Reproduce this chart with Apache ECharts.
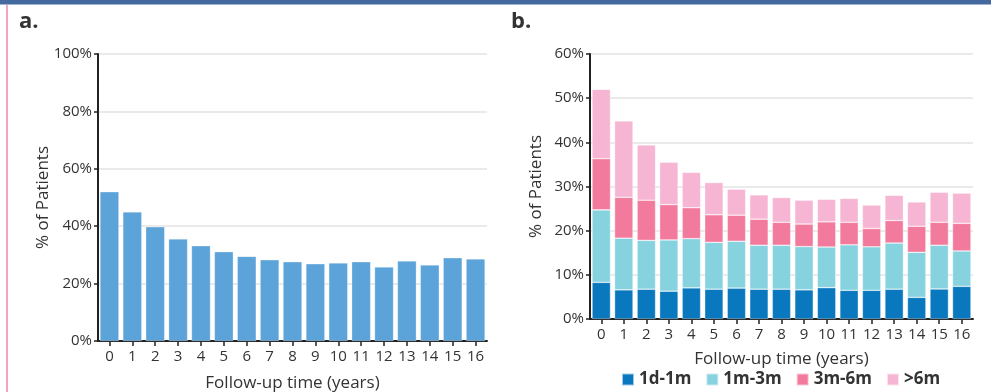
<!DOCTYPE html>
<html>
<head>
<meta charset="utf-8">
<script src="https://cdn.jsdelivr.net/npm/echarts@6/dist/echarts.min.js"></script>
<style>
html,body{margin:0;padding:0;background:#fff;}
#c{width:991px;height:392px;}
</style>
</head>
<body>
<div id="c"></div>
<script>
const years = ['0','1','2','3','4','5','6','7','8','9','10','11','12','13','14','15','16'];
const yTicksA = [0, 20, 40, 60, 80, 100];
const yTicksB = [0, 10, 20, 30, 40, 50, 60];
const totalPct = [52.0, 45.0, 39.8, 35.6, 33.2, 31.1, 29.5, 28.3, 27.6, 26.9, 27.2, 27.6, 25.8, 27.9, 26.5, 29.0, 28.6];
const seriesNames = ['1d-1m', '1m-3m', '3m-6m', '>6m'];
const d1m = [8.3, 6.6, 6.75, 6.3, 7.05, 6.75, 7.0, 6.75, 6.75, 6.6, 7.1, 6.5, 6.5, 6.75, 4.9, 6.8, 7.4];
const m1m3 = [16.4, 11.7, 11.05, 11.6, 11.15, 10.6, 10.6, 9.95, 9.95, 9.8, 9.2, 10.3, 9.85, 10.45, 10.2, 9.9, 8.0];
const m3m6 = [11.6, 9.25, 9.1, 8.0, 7.0, 6.25, 5.9, 5.9, 5.2, 5.1, 5.7, 5.1, 4.15, 5.1, 5.9, 5.2, 6.25];
const m6p = [15.7, 17.3, 12.5, 9.6, 8.0, 7.3, 5.9, 5.5, 5.6, 5.4, 5.1, 5.4, 5.3, 5.7, 5.5, 6.8, 6.85];

const colors = ['#0a78be', '#86d2de', '#f27a9c', '#f5b5d3'];
const FONT = 'Open Sans';
const txt = '#333';

const chart = echarts.init(document.getElementById('c'));

function yAxisCfg(gridIndex, max, interval, gap) {
  return {
    type: 'value', gridIndex, min: 0, max, interval,
    name: '% of Patients', nameLocation: 'middle', nameGap: gap, nameMoveOverlap: false,
    nameTextStyle: {fontFamily: FONT, fontSize: 17, color: txt},
    axisLine: {show: true, lineStyle: {color: '#222', width: 2}},
    axisTick: {show: true, length: 4, lineStyle: {color: '#222', width: 1.5}},
    axisLabel: {formatter: '{value}%', fontFamily: FONT, fontSize: 15, color: txt, margin: 6},
    splitLine: {show: true, lineStyle: {color: '#e3e3e3', width: 1.5}}
  };
}
function xAxisCfg(gridIndex, gap) {
  return {
    type: 'category', gridIndex, data: years,
    name: 'Follow-up time (years)', nameLocation: 'middle', nameGap: gap,
    nameTextStyle: {fontFamily: FONT, fontSize: 17, color: txt},
    axisLine: {show: true, lineStyle: {color: '#222', width: 2}},
    axisTick: {show: true, alignWithLabel: true, length: 5, lineStyle: {color: '#222', width: 1.5}},
    axisLabel: {fontFamily: FONT, fontSize: 15, color: txt, margin: 8, interval: 0}
  };
}

const stackSeries = [d1m, m1m3, m3m6, m6p].map((arr, i) => ({
  name: seriesNames[i], type: 'bar', stack: 'b', xAxisIndex: 1, yAxisIndex: 1,
  data: arr, barCategoryGap: '18%',
  itemStyle: {color: colors[i], borderColor: 'rgba(255,255,255,0.6)', borderWidth: 0.6}
}));

chart.setOption({
  animation: false,
  graphic: [
    {type: 'rect', shape: {x: 0, y: 0, width: 991, height: 4}, style: {fill: '#44699f'}},
    {type: 'rect', shape: {x: 0, y: 4, width: 991, height: 1}, style: {fill: '#9fb4d3'}},
    {type: 'rect', shape: {x: 6, y: 5, width: 2, height: 387}, style: {fill: '#f5a3c2'}},
    {type: 'text', left: 19, top: 11, style: {text: 'a.', fontFamily: FONT, fontWeight: 'bold', fontSize: 22, fill: '#333'}},
    {type: 'text', left: 511, top: 11, style: {text: 'b.', fontFamily: FONT, fontWeight: 'bold', fontSize: 22, fill: '#333'}}
  ],
  grid: [
    {left: 98, right: 504, top: 54, bottom: 51, outerBoundsMode: 'none', containLabel: false},
    {left: 590, right: 18, top: 54, bottom: 73, outerBoundsMode: 'none', containLabel: false}
  ],
  legend: {
    data: seriesNames, bottom: -1, left: 616, itemWidth: 12, itemHeight: 12, itemGap: 14,
    icon: 'rect',
    textStyle: {fontFamily: FONT, fontSize: 17, fontWeight: 'bold', color: txt}
  },
  xAxis: [xAxisCfg(0, 34), xAxisCfg(1, 32)],
  yAxis: [yAxisCfg(0, 100, 20, 46), yAxisCfg(1, 60, 10, 45)],
  series: [
    {type: 'bar', xAxisIndex: 0, yAxisIndex: 0, data: totalPct, barCategoryGap: '17%',
     itemStyle: {color: '#5ba3d9', borderColor: 'rgba(255,255,255,0.5)', borderWidth: 0.6}},
    ...stackSeries
  ]
});
</script>
</body>
</html>
